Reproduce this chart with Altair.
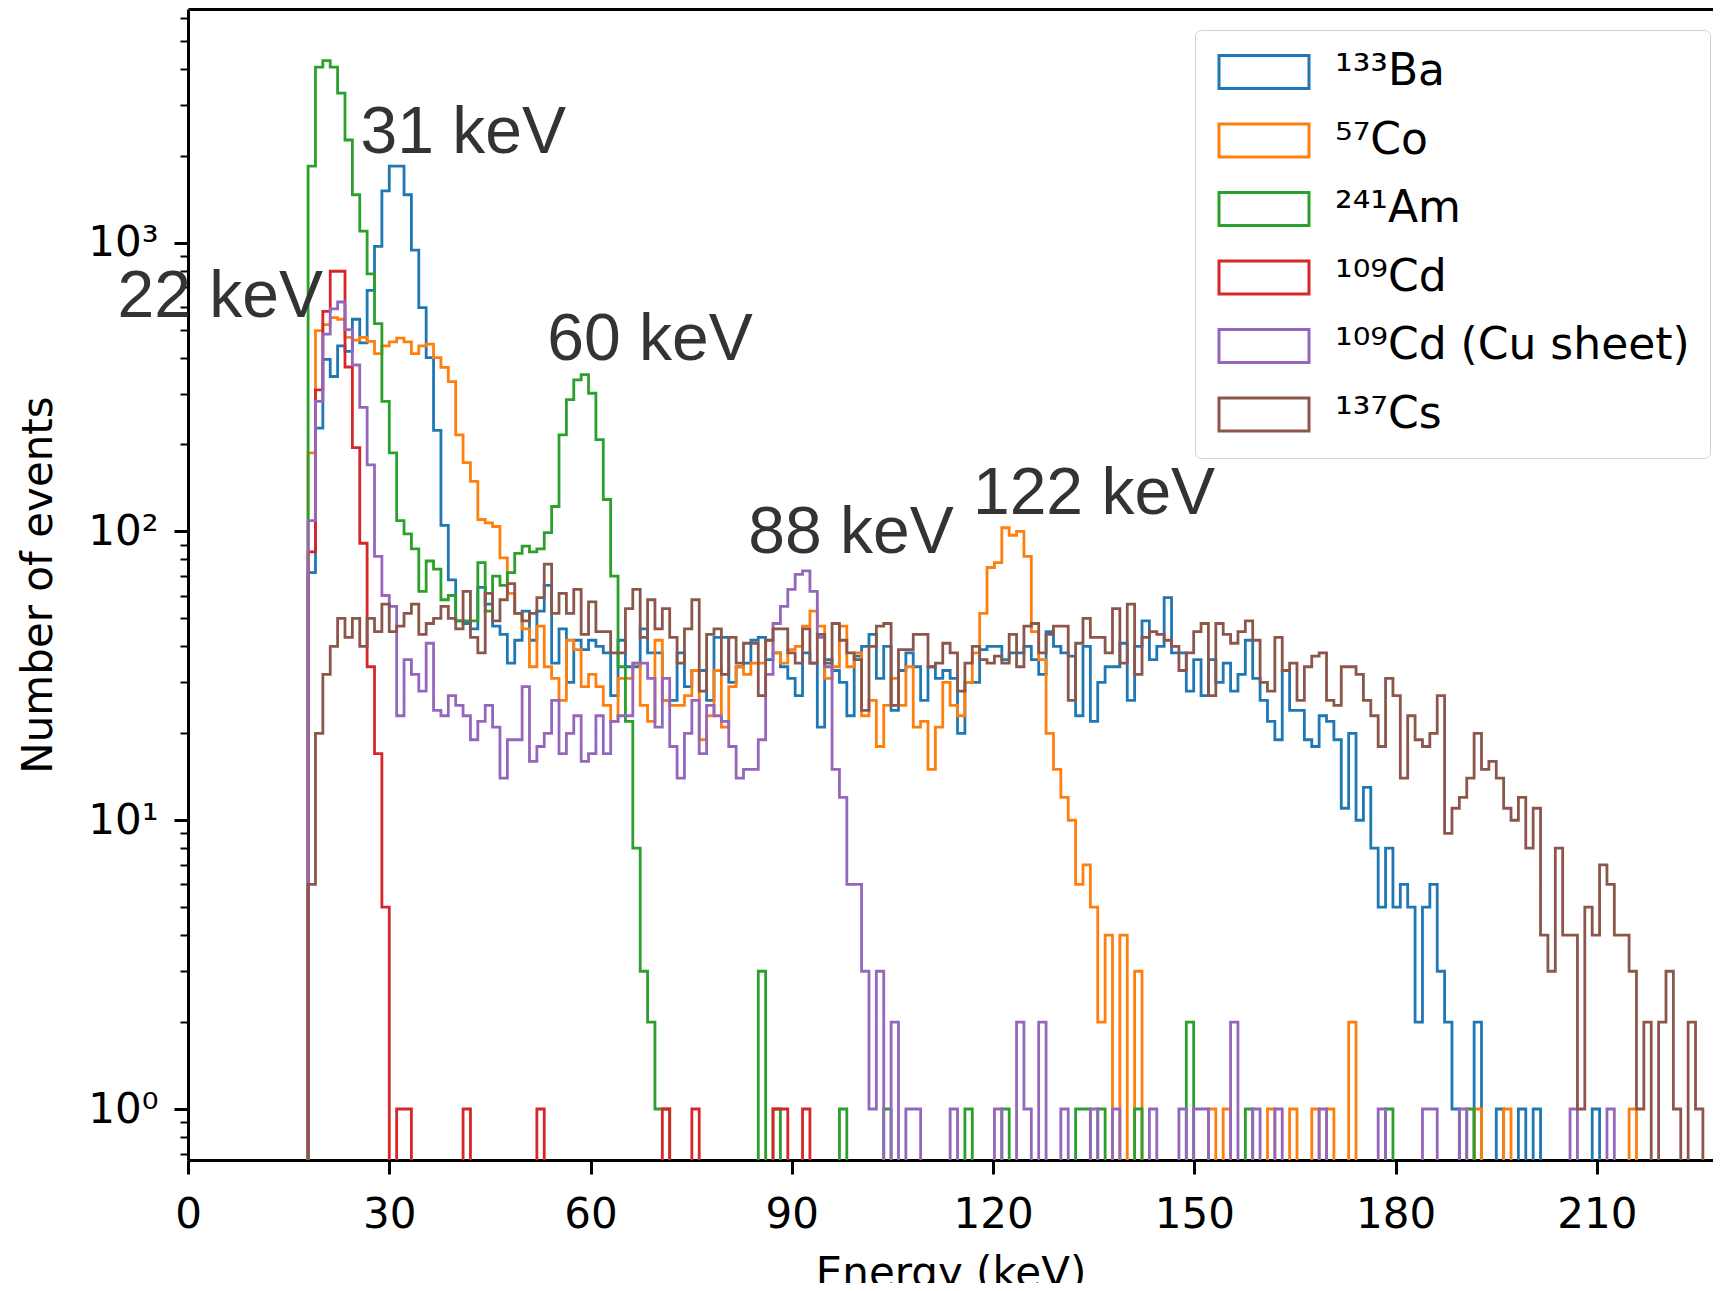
import altair as alt
import pandas as pd

# ---------------- data ----------------
SERIES_NAMES = ["¹³³Ba", "⁵⁷Co", "²⁴¹Am", "¹⁰⁹Cd", "¹⁰⁹Cd (Cu sheet)", "¹³⁷Cs"]
SERIES_COLORS = ["#1f77b4", "#ff7f0e", "#2ca02c", "#d62728", "#9467bd", "#8c564b"]

BIN_START = 17.9   # keV, lower edge of first bin
BIN_WIDTH = 1.1    # keV
N_BINS = 189

BA133_COUNTS = [
    72, 228, 394, 344, 439, 420, 543, 450, 683, 970,
    1510, 1842, 1842, 1465, 942, 596, 400, 224, 105, 68,
    49, 48, 46, 64, 56, 47, 44, 35, 42, 53,
    42, 53, 65, 35, 46, 30, 42, 39, 42, 40,
    38, 27, 42, 34, 34, 46, 38, 38, 26, 26,
    38, 29, 33, 33, 26, 43, 43, 30, 34, 35,
    42, 43, 36, 38, 34, 31, 27, 38, 35, 21,
    36, 33, 30, 23, 37, 40, 44, 31, 40, 24,
    33, 38, 34, 26, 34, 31, 33, 31, 20, 30,
    30, 39, 40, 40, 36, 38, 38, 40, 36, 32,
    45, 40, 38, 37, 23, 40, 22, 30, 34, 34,
    41, 26, 40, 49, 36, 40, 59, 38, 38, 28,
    36, 27, 36, 30, 35, 28, 32, 42, 31, 26,
    22, 19, 33, 24, 24, 19, 18, 23, 22, 19,
    11, 20, 10, 13, 8, 5, 8, 5, 6, 5,
    2, 5, 6, 3, 2, 1,
]
BA133_SPARSE = {158: 2, 161: 1, 164: 1, 166: 1, 174: 1}

CO57_COUNTS = [
    187, 496, 520, 550, 543, 470, 460, 470, 455, 413,
    439, 453, 467, 453, 413, 439, 445, 400, 370, 330,
    216, 173, 149, 110, 107, 104, 81, 61, 52, 46,
    34, 47, 34, 31, 26, 42, 39, 29, 32, 29,
    25, 22, 31, 31, 35, 25, 22, 42, 26, 25,
    25, 27, 33, 19, 23, 33, 21, 29, 34, 32,
    35, 35, 42, 38, 35, 39, 40, 47, 53, 47,
    31, 34, 47, 34, 38, 23, 26, 18, 25, 31,
    25, 34, 21, 22, 15, 21, 30, 25, 23, 30,
    38, 52, 75, 78, 103, 97, 100, 82, 45, 36,
    20, 15, 12, 10, 6, 7, 5, 2, 4, 0,
    4, 0, 3,
]
CO57_SPARSE = {122: 1, 124: 1, 130: 1, 133: 1, 136: 1, 138: 1, 141: 2,
               158: 1, 162: 1, 179: 1}

AM241_COUNTS = [
    1842, 4050, 4270, 4050, 3295, 2267, 1465, 1096, 779, 524,
    282, 187, 109, 98, 87, 62, 79, 74, 58, 60,
    49, 49, 49, 78, 53, 70, 65, 72, 84, 89,
    85, 87, 99, 122, 216, 286, 335, 349, 301, 208,
    129, 70, 34, 22, 8, 3, 2, 1, 1,
]
AM241_SPARSE = {61: 3, 63: 1, 72: 1, 78: 1, 89: 1, 94: 1, 104: 1, 105: 1,
                107: 1, 112: 1, 119: 2, 127: 1, 146: 1, 157: 1}

CD109_COUNTS = [85, 309, 578, 796, 796, 371, 195, 91, 34, 17, 5]
CD109_SPARSE = {12: 1, 13: 1, 21: 1, 31: 1, 48: 1, 52: 1, 63: 1, 64: 1, 67: 1}

CDCU_COUNTS = [
    109, 282, 482, 590, 623, 500, 377, 269, 170, 82,
    60, 55, 23, 36, 32, 28, 41, 24, 23, 27,
    25, 23, 19, 22, 25, 21, 14, 19, 19, 29,
    16, 18, 20, 26, 17, 20, 23, 16, 17, 23,
    17, 22, 23, 23, 35, 35, 31, 21, 31, 18,
    14, 20, 26, 17, 25, 23, 22, 18, 14, 15,
    15, 19, 32, 48, 55, 63, 71, 73, 62, 43,
    34, 15, 12, 6, 6, 3, 1, 3,
]
CDCU_SPARSE = {79: 2, 81: 1, 82: 1, 87: 1, 93: 1, 96: 2, 97: 1, 99: 2, 102: 1,
               106: 1, 109: 1, 114: 1, 118: 1, 120: 1, 121: 1, 125: 2, 128: 1,
               131: 1, 137: 1, 145: 1, 151: 1, 152: 1, 156: 1, 171: 1, 176: 1}

CS137_COUNTS = [
    6, 20, 32, 40, 50, 43, 50, 40, 50, 45,
    56, 45, 47, 52, 56, 44, 48, 50, 55, 50,
    46, 62, 43, 38, 61, 49, 58, 66, 52, 49,
    52, 59, 77, 52, 61, 52, 63, 44, 57, 45,
    45, 38, 38, 54, 63, 43, 58, 46, 54, 43,
    35, 46, 58, 28, 44, 46, 32, 43, 35, 41,
    41, 27, 42, 46, 46, 38, 35, 46, 35, 44,
    35, 48, 42, 38, 36, 24, 40, 47, 48, 25,
    39, 39, 44, 44, 34, 35, 41, 38, 28, 35,
    40, 36, 35, 37, 35, 44, 34, 47, 48, 38,
    44, 47, 47, 26, 41, 50, 43, 43, 38, 54,
    35, 56, 32, 43, 45, 44, 42, 40, 33, 38,
    45, 48, 27, 48, 44, 41, 45, 49, 42, 30,
    28, 43, 33, 35, 26, 34, 37, 38, 26, 25,
    34, 34, 32, 26, 23, 18, 31, 27, 14, 23,
    19, 18, 20, 27, 9, 11, 12, 14, 20, 15,
    16, 14, 11, 10, 12, 8, 11, 4, 3, 8,
    4, 4, 1, 5, 4, 7, 6, 4, 4, 3,
    1, 2, 0, 2, 3, 1, 0, 2, 1,
]
CS137_SPARSE = {}

ANNOT_TEXT = ["22 keV", "31 keV", "60 keV", "88 keV", "122 keV"]
ANNOT_X = [-10.5, 25.7, 53.55, 83.5, 117.0]
ANNOT_Y = [553, 2043, 392, 84, 115]

# ---------------- build step outlines ----------------
PLOT_W = 1525
X_MAX = PLOT_W / 6.709
Y_MIN, Y_MAX = 0.666, 6442
FLOOR = 0.05  # zero-count bins drop below the visible range (clipped)


def full_counts(main, sparse):
    c = list(main) + [0] * (N_BINS - len(main))
    for k, v in sparse.items():
        c[k] = v
    return c


series_data = [
    (SERIES_NAMES[0], BA133_COUNTS, BA133_SPARSE),
    (SERIES_NAMES[1], CO57_COUNTS, CO57_SPARSE),
    (SERIES_NAMES[2], AM241_COUNTS, AM241_SPARSE),
    (SERIES_NAMES[3], CD109_COUNTS, CD109_SPARSE),
    (SERIES_NAMES[4], CDCU_COUNTS, CDCU_SPARSE),
    (SERIES_NAMES[5], CS137_COUNTS, CS137_SPARSE),
]

edges = [BIN_START + BIN_WIDTH * k for k in range(N_BINS + 1)]
frames = {}
for name, main, sparse in series_data:
    counts = full_counts(main, sparse)
    pts = [(edges[0], FLOOR)]
    for k in range(N_BINS):
        pts.append((edges[k], counts[k] if counts[k] > 0 else FLOOR))
    pts.append((edges[N_BINS], counts[-1] if counts[-1] > 0 else FLOOR))
    pts.append((edges[N_BINS], FLOOR))
    frames[name] = pd.DataFrame({
        "series": name,
        "energy": [p[0] for p in pts],
        "count": [p[1] for p in pts],
        "order": list(range(len(pts))),
    })

ann_df = pd.DataFrame({"label": ANNOT_TEXT, "ax": ANNOT_X, "ay": ANNOT_Y})

# ---------------- chart ----------------
FONT = "DejaVu Sans"
x_scale = alt.Scale(domain=[0, X_MAX], nice=False, zero=False)
y_scale = alt.Scale(type="log", domain=[Y_MIN, Y_MAX], nice=False)

Y_TICKS = [0.7, 0.8, 0.9, 1, 2, 3, 4, 5, 6, 7, 8, 9,
           10, 20, 30, 40, 50, 60, 70, 80, 90,
           100, 200, 300, 400, 500, 600, 700, 800, 900,
           1000, 2000, 3000, 4000, 5000, 6000]
MAJOR_TEST = "datum.value == 1 || datum.value == 10 || datum.value == 100 || datum.value == 1000"

x_axis = alt.Axis(
    values=[0, 30, 60, 90, 120, 150, 180, 210], title="Energy (keV)",
    labelFont=FONT, labelFontSize=42, labelColor="black",
    titleFont=FONT, titleFontSize=42, titleFontWeight="normal", titleColor="black",
    tickSize=14, tickWidth=3, tickColor="black",
    domainColor="black", domainWidth=3, labelPadding=20, titlePadding=18,
    grid=False, labelFlush=False, labelOverlap=False,
)
top_axis = alt.Axis(orient="top", labels=False, ticks=False, title=None,
                    domainColor="black", domainWidth=3, grid=False)
y_axis = alt.Axis(
    values=Y_TICKS, title="Number of events",
    labelExpr="datum.value == 1 ? '10⁰' : datum.value == 10 ? '10¹' : datum.value == 100 ? '10²' : datum.value == 1000 ? '10³' : ''",
    labelFont=FONT, labelFontSize=42, labelColor="black",
    titleFont=FONT, titleFontSize=42, titleFontWeight="normal", titleColor="black",
    tickSize={"condition": {"test": MAJOR_TEST, "value": 14}, "value": 8},
    tickWidth={"condition": {"test": MAJOR_TEST, "value": 3}, "value": 2},
    tickColor="black", domainColor="black", domainWidth=3,
    labelPadding=16, titlePadding=27, grid=False, labelOverlap=False,
)

legend = alt.Legend(
    title=None, orient="none", legendX=1007, legendY=21,
    symbolType="M-1,-0.92L4,-0.92L4,0.92L-1,0.92Z", symbolSize=1296,
    symbolStrokeWidth=3, symbolFillColor="white",
    labelFont=FONT, labelFontSize=44, labelColor="black", labelOffset=76,
    labelLimit=0, padding=20, rowPadding=22.5,
    fillColor="rgba(255,255,255,0.8)", strokeColor="#d0d0d0", cornerRadius=6,
)
color = alt.Color("series:N",
                  scale=alt.Scale(domain=SERIES_NAMES, range=SERIES_COLORS),
                  legend=legend)

layers = []
for i, name in enumerate(SERIES_NAMES):
    layers.append(
        alt.Chart(frames[name]).mark_line(
            interpolate="step-after", strokeWidth=2.8, clip=True, strokeJoin="miter"
        ).encode(
            x=alt.X("energy:Q", scale=x_scale, axis=x_axis if i == 0 else None),
            y=alt.Y("count:Q", scale=y_scale, axis=y_axis),
            color=color,
            order=alt.Order("order:Q"),
        )
    )

text_layer = alt.Chart(ann_df).mark_text(
    align="left", baseline="alphabetic", font="Liberation Sans",
    fontSize=66, color="#333333",
).encode(
    x=alt.X("ax:Q", scale=x_scale, axis=top_axis),
    y=alt.Y("ay:Q", scale=y_scale, axis=y_axis),
    text="label:N",
)

chart = alt.layer(*layers, text_layer).resolve_axis(x="independent").properties(
    width=PLOT_W, height=1151,
    padding={"left": 180, "top": 1, "right": 0, "bottom": 123},
    autosize=alt.AutoSizeParams(type="none"),
).configure_view(strokeWidth=0)

chart.save("out.html", embed_options={"renderer": "svg", "actions": False})
